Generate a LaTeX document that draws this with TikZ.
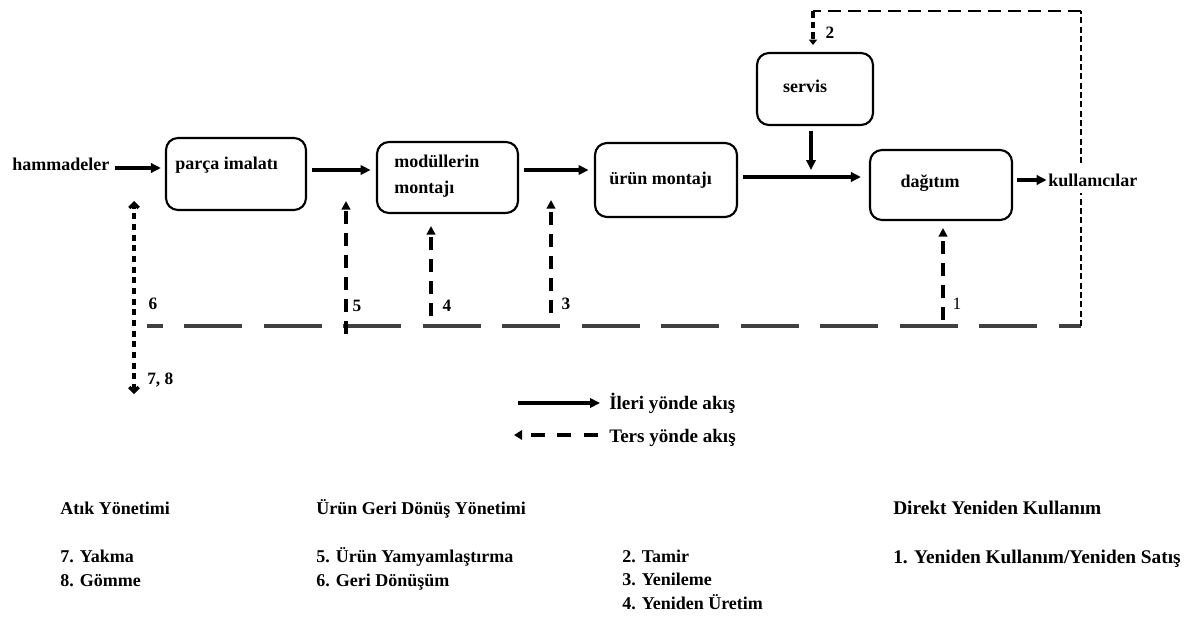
\documentclass[tikz,border=0pt]{standalone}
\usepackage{fontspec}
\setmainfont{Liberation Serif}[BoldFont={Liberation Serif Bold}]
\usetikzlibrary{arrows.meta,calc,fit}
\begin{document}
\begin{tikzpicture}[x=0.75pt,y=-0.75pt,
  every node/.style={font=\fontsize{13.5}{19}\selectfont\bfseries, inner sep=0pt},
  stagebox/.style={draw, line width=1.6pt, rounded corners=9pt, inner sep=0pt},
  fwd/.style={line width=2.6pt, -{Triangle[length=7.5pt,width=7pt]}},
  ret/.style={line width=2.6pt, dash pattern=on 10pt off 6.5pt, -{Triangle[length=6.5pt,width=6.5pt]}},
  bus/.style={line width=2.8pt, draw=black!75, dash pattern=on 43.5pt off 16.1pt, dash phase=31.5pt},
  waste/.style={line width=2.4pt, dash pattern=on 4.5pt off 3.5pt, {Straight Barb[length=3.5pt,width=7pt]}-{Straight Barb[length=3.5pt,width=7pt]}},
  loopdash/.style={line width=1.8pt, dash pattern=on 10pt off 5pt},
  loopfine/.style={line width=1.3pt, dash pattern=on 4.5pt off 2.5pt},
  num/.style={font=\fontsize{13}{15}\selectfont\bfseries},
  legendtext/.style={anchor=base west, font=\fontsize{14.3}{17}\selectfont\bfseries},
  % multi-line lists: base anchor sits on the last line
  cattxt/.style={anchor=base west, align=left, font=\fontsize{13.5}{17.3}\selectfont\bfseries},
  bigtxt/.style={anchor=base west, font=\fontsize{14.5}{19}\selectfont\bfseries},
  txt/.style={anchor=west}]
\useasboundingbox (0,0) rectangle (1184,617);

% process stages
\node[stagebox, fit={(166,138)(306,210)}] (pi) {};
\node[stagebox, fit={(377,142)(518,213)}] (mm) {};
\node[stagebox, fit={(595,143)(737,217)}] (um) {};
\node[stagebox, fit={(757,53)(873,125)}] (sv) {};
\node[stagebox, fit={(870,150)(1012,220)}] (dg) {};

\node[txt] (pit) at (175,165) {parça imalatı};
\node[txt, align=left, anchor=north west] (mmt) at (394,155) {modüllerin\\montajı};
\node[txt] (umt) at (609,180) {ürün montajı};
\node (svt) at (805,86) {servis};
\node (dgt) at (930,183) {dağıtım};

\node[txt] (hm) at (12,164) {hammadeler};
\node[txt] (kl) at (1048,180) {kullanıcılar};

% forward flow
\draw[fwd, shorten <=4pt, shorten >=3pt] (hm.east |- 0,168) -- (pi.west |- 0,168);
\draw[fwd, shorten <=4pt, shorten >=4pt] (pi.east |- 0,170) -- (mm.west |- 0,170);
\draw[fwd, shorten <=4pt, shorten >=4pt] (mm.east |- 0,170) -- (um.west |- 0,170);
\draw[fwd, shorten <=4pt, shorten >=6pt] (um.east |- 0,177) -- (dg.west |- 0,177);
\coordinate (sj) at (811,170);
\draw[fwd, shorten <=4pt] (sv.south -| sj) -- (sj);
\draw[fwd, shorten <=3pt, shorten >=1pt] (dg.east |- 0,180) -- (kl.west);

% reverse flow collector
\coordinate (busL) at (147,326);
\coordinate (busR) at (1081,326);
\draw[bus] (busL) -- (busR);

\coordinate (r5a) at (346,334); \coordinate (r5b) at (346,201);
\coordinate (r4a) at (431,316); \coordinate (r4b) at (431,226);
\coordinate (r3a) at (551,313); \coordinate (r3b) at (551,200);
\coordinate (r1a) at (943,320); \coordinate (r1b) at (943,228);
\draw[ret] (r5a) -- (r5b);
\draw[ret] (r4a) -- (r4b);
\draw[ret] (r3a) -- (r3b);
\draw[ret] (r1a) -- (r1b);

\node[num] (n5) at (357,306) {5};
\node[num] (n4) at (447,306) {4};
\node[num] (n3) at (566,304) {3};
\node[font=\fontsize{13}{15}\selectfont] (n1) at (957,304) {1};

% waste management branch
\coordinate (w1) at (134,201);
\coordinate (w2) at (134,394);
\draw[waste] (w2) -- (w1);
\node[num] (n6) at (153,304) {6};
\node[num, anchor=west] (n78) at (147,380) {7, 8};

% repair loop from users back to service
\coordinate (lt) at (1081,11);
\coordinate (ls) at (813,11);
\coordinate (le) at (813,45);
\draw[loopfine] (busR) -- ($(kl.south -| busR)+(0,6)$);
\draw[loopfine] ($(kl.north -| busR)+(0,-10)$) -- (lt);
\draw[loopdash] (lt) -- (ls);
\draw[line width=2.4pt, dash pattern=on 5pt off 3pt, -{Triangle[length=4pt,width=6pt]}] (ls) -- (le);
\node[num] (n2) at (830,33) {2};

% legend
\coordinate (lg1a) at (518,403); \coordinate (lg1b) at (600,403);
\draw[fwd] (lg1a) -- (lg1b);
\node[legendtext] (lg1) at (609,409) {İleri yönde akış};
\coordinate (lg2a) at (598,435); \coordinate (lg2b) at (514,435);
\draw[line width=3pt, dash pattern=on 10.5pt off 9.5pt, -{Triangle[length=6pt,width=7pt]}] (lg2a) -- (lg2b);
\node[legendtext] (lg2) at (609,442) {Ters yönde akış};

% categories
\node[cattxt] (c1) at (60,514) {Atık Yönetimi};
\node[cattxt] (c1l) at (60,586) {7. Yakma\\8. Gömme};
\node[cattxt] (c2) at (316,514) {Ürün Geri Dönüş Yönetimi};
\node[cattxt] (c2l) at (316,586) {5. Ürün Yamyamlaştırma\\6. Geri Dönüşüm};
\node[cattxt] (c3l) at (622,609) {2. Tamir\\3. Yenileme\\4. Yeniden Üretim};
\node[bigtxt] (c4) at (893,514) {Direkt Yeniden Kullanım};
\node[bigtxt] (c4l) at (893,563) {1. Yeniden Kullanım/Yeniden Satış};
\end{tikzpicture}
\end{document}
